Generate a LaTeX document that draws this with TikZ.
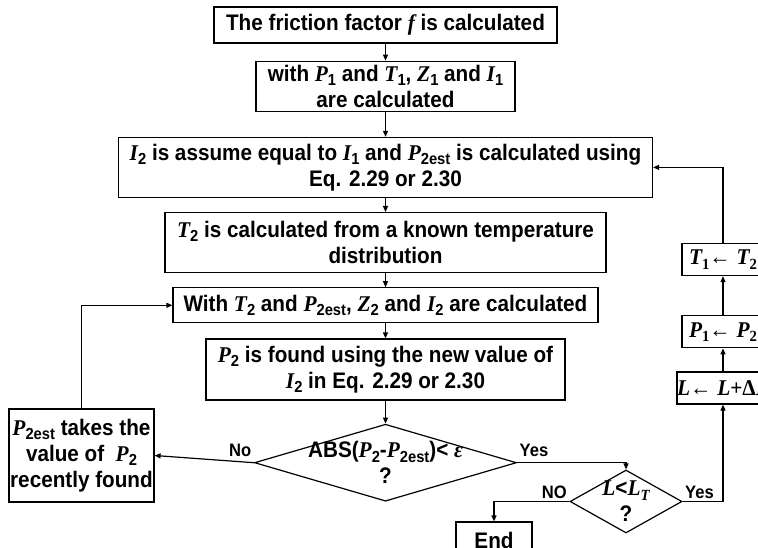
\documentclass[tikz,border=0pt]{standalone}
\usepackage{fontspec}
\setmainfont{Liberation Sans}[FakeStretch=0.92]
\newfontfamily\varfont{Liberation Serif}[FakeStretch=0.95]
\usetikzlibrary{arrows.meta,positioning,shapes.geometric}
\newcommand{\va}[1]{{\varfont\bfseries\itshape #1}}
\newcommand{\vb}[1]{{\varfont\bfseries #1}}
\newcommand{\sbs}[1]{\raisebox{-0.35ex}{\fontsize{16}{16}\selectfont #1}}
\newcommand{\vsb}[1]{\raisebox{-0.35ex}{\fontsize{15.5}{15.5}\selectfont\varfont\bfseries #1}}

\begin{document}
\begin{tikzpicture}[x=1pt, y=-1pt,
  node distance=18pt,
  font=\fontsize{22.5}{26}\selectfont\bfseries,
  procbox/.style={draw, line width=1.2pt, align=center, inner sep=0pt},
  decision/.style={draw, line width=1.2pt, diamond, inner sep=0pt, aspect=1},
  flow/.style={-{Triangle[length=6pt, width=5pt]}, line width=1.2pt},
  tag/.style={font=\fontsize{18}{18}\selectfont\bfseries, inner sep=2pt}
]
\useasboundingbox (0,0) rectangle (758,548);
\node[procbox, minimum width=343pt, minimum height=36pt] (friction) at (385.5,25) {The friction factor \va{f} is calculated};
\node[procbox, minimum width=259pt, minimum height=50pt, below=17pt of friction] (first) {with \va{P}\sbs{1} and \va{T}\sbs{1}, \va{Z}\sbs{1} and \va{I}\sbs{1}\\are calculated};
\node[procbox, minimum width=534pt, minimum height=60pt, below=25pt of first] (assume) {\va{I}\sbs{2} is assume equal to \va{I}\sbs{1} and \va{P}\sbs{2est} is calculated using\\Eq. 2.29 or 2.30};
\node[procbox, minimum width=441pt, minimum height=60pt, below=14pt of assume] (temp) {\va{T}\sbs{2} is calculated from a known temperature\\distribution};
\node[procbox, minimum width=425pt, minimum height=35pt, below=14pt of temp] (second) {With \va{T}\sbs{2} and \va{P}\sbs{2est}, \va{Z}\sbs{2} and \va{I}\sbs{2} are calculated};
\node[procbox, minimum width=359pt, minimum height=61pt, below=15pt of second] (found) {\va{P}\sbs{2} is found using the new value of\\\va{I}\sbs{2} in Eq. 2.29 or 2.30};
\node[decision, minimum width=262pt, minimum height=77pt, below=23pt of found] (conv) {};
\node[align=center, inner sep=0pt] (convq) at (conv) {ABS(\va{P}\sbs{2}-\va{P}\sbs{2est})< \va{ε}\\?};
\node[procbox, minimum width=145pt, minimum height=93pt] (update) at (81.5,455.5) {\va{P}\sbs{2est} takes the\\value of~ \va{P}\sbs{2}\\recently found};
\node[decision, minimum width=112pt, minimum height=63pt] (length) at (626,501.5) {};
\node[align=center, inner sep=0pt] (lengthq) at (length) {\va{L}<\va{L}\vsb{\itshape T}\\?};
\node[procbox, minimum width=76pt, minimum height=36pt] (stop) at (494,540) {End};
\node[procbox, minimum width=82pt, minimum height=32pt] (advance) at (723,388) {\va{L}\vb{←} \va{L}\vb{+Δ}\va{L}};
\node[procbox, minimum width=82pt, minimum height=32pt, above=23pt of advance] (pres) {\va{P}\vsb{1}\vb{←} \va{P}\vsb{2}};
\node[procbox, minimum width=82pt, minimum height=32pt, above=39pt of pres] (tempup) {\va{T}\vsb{1}\vb{←} \va{T}\vsb{2}};
\draw[flow] (friction) -- (first);
\draw[flow] (first) -- (assume);
\draw[flow] (assume) -- (temp);
\draw[flow] (temp) -- (second);
\draw[flow] (second) -- (found);
\draw[flow] (found) -- (conv);
\draw[flow] (conv.west) -- node[tag, above left, pos=0, yshift=3pt] (no) {No} (update.east);
\draw[flow] (update.north) |- (second.west);
\draw[flow] (conv.east) -| node[tag, above right, pos=0, yshift=3pt] (yes) {Yes} (length.north);
\draw[flow] (length.west) -| node[tag, above left, pos=0] (noend) {NO} (stop.north);
\draw[flow] (length.east) -| node[tag, above right, pos=0] (yesloop) {Yes} (advance.south);
\draw[flow] (advance) -- (pres);
\draw[flow] (pres) -- (tempup);
\draw[flow] (tempup.north) |- (assume.east);
\end{tikzpicture}
\end{document}
